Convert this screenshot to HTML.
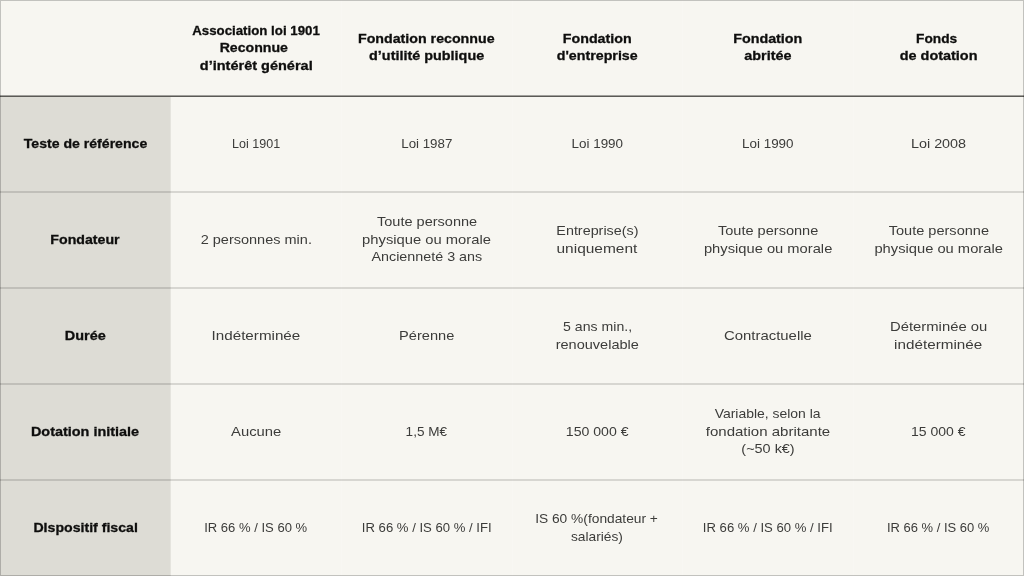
<!DOCTYPE html>
<html lang="fr"><head><meta charset="utf-8"><title>Comparatif des structures</title>
<style>
*{margin:0;padding:0;box-sizing:border-box}
html,body{width:1024px;height:576px;overflow:hidden;background:#f7f6f1}
body{font-family:"Liberation Sans",sans-serif;font-size:13.33px;line-height:17.5px;color:#3c3c3a;position:relative}
.tbl{position:absolute;left:0;top:0;width:1024px;height:576px;background:#f7f6f1}
.cell{position:absolute;width:170.667px;height:96px}
.lab{background:#dddcd5}
.hr{position:absolute;left:0;width:1024px;height:2px;margin-top:-1px;background:rgba(0,0,0,.13)}
.hr.h0{height:1px;background:#5b5a56;margin-top:0;box-shadow:0 -1px 0 rgba(91,90,86,.55)}
.seam{position:absolute;top:0;width:1px;height:576px;background:rgba(255,255,255,.15)}
.frame{position:absolute;left:0;top:0;width:1024px;height:576px;border:1px solid rgba(0,0,0,.21);pointer-events:none}
.ln{position:absolute;left:0;top:0;white-space:nowrap;transform-origin:50% 50%;display:block}
.b .ln{font-weight:700;color:#0e0e0d;-webkit-text-stroke:0.3px #0e0e0d}
.edge{position:absolute;left:170px;top:96px;width:1px;height:480px;background:#e5e4de}
</style></head><body>
<div class="tbl">
<div class="cell" style="left:0px;top:0px;width:170px">
</div>
<div class="cell b" style="left:171px;top:0px;width:170px">
<span class="ln" style="transform:translate(85.00px,21.83px) translateX(-50%) scaleX(0.9963)">Association loi 1901</span>
<span class="ln" style="transform:translate(82.80px,39.33px) translateX(-50%) scaleX(1.0601)">Reconnue</span>
<span class="ln" style="transform:translate(85.25px,56.83px) translateX(-50%) scaleX(1.0881)">d’intérêt général</span>
</div>
<div class="cell b" style="left:341px;top:0px;width:171px">
<span class="ln" style="transform:translate(85.28px,29.98px) translateX(-50%) scaleX(1.0660)">Fondation reconnue</span>
<span class="ln" style="transform:translate(85.63px,47.48px) translateX(-50%) scaleX(1.0803)">d’utilité publique</span>
</div>
<div class="cell b" style="left:512px;top:0px;width:171px">
<span class="ln" style="transform:translate(85.23px,29.98px) translateX(-50%) scaleX(1.0701)">Fondation</span>
<span class="ln" style="transform:translate(85.23px,47.48px) translateX(-50%) scaleX(1.0677)">d'entreprise</span>
</div>
<div class="cell b" style="left:683px;top:0px;width:170px">
<span class="ln" style="transform:translate(84.76px,29.98px) translateX(-50%) scaleX(1.0736)">Fondation</span>
<span class="ln" style="transform:translate(84.88px,47.48px) translateX(-50%) scaleX(1.0804)">abritée</span>
</div>
<div class="cell b" style="left:853px;top:0px;width:171px">
<span class="ln" style="transform:translate(83.64px,29.98px) translateX(-50%) scaleX(1.0285)">Fonds</span>
<span class="ln" style="transform:translate(85.60px,47.48px) translateX(-50%) scaleX(1.0831)">de dotation</span>
</div>
<div class="cell lab b" style="left:0px;top:96px;width:170px">
<span class="ln" style="transform:translate(85.50px,39.13px) translateX(-50%) scaleX(1.0569)">Teste de référence</span>
</div>
<div class="cell" style="left:171px;top:96px;width:170px">
<span class="ln" style="transform:translate(85.12px,38.93px) translateX(-50%) scaleX(0.9390)">Loi 1901</span>
</div>
<div class="cell" style="left:341px;top:96px;width:171px">
<span class="ln" style="transform:translate(85.77px,38.93px) translateX(-50%) scaleX(0.9988)">Loi 1987</span>
</div>
<div class="cell" style="left:512px;top:96px;width:171px">
<span class="ln" style="transform:translate(85.28px,38.93px) translateX(-50%) scaleX(1.0064)">Loi 1990</span>
</div>
<div class="cell" style="left:683px;top:96px;width:170px">
<span class="ln" style="transform:translate(84.78px,38.93px) translateX(-50%) scaleX(1.0064)">Loi 1990</span>
</div>
<div class="cell" style="left:853px;top:96px;width:171px">
<span class="ln" style="transform:translate(85.53px,38.93px) translateX(-50%) scaleX(1.0791)">Loi 2008</span>
</div>
<div class="cell lab b" style="left:0px;top:192px;width:170px">
<span class="ln" style="transform:translate(85.01px,39.13px) translateX(-50%) scaleX(1.0630)">Fondateur</span>
</div>
<div class="cell" style="left:171px;top:192px;width:170px">
<span class="ln" style="transform:translate(85.31px,38.93px) translateX(-50%) scaleX(1.0880)">2 personnes min.</span>
</div>
<div class="cell" style="left:341px;top:192px;width:171px">
<span class="ln" style="transform:translate(86.08px,21.43px) translateX(-50%) scaleX(1.0898)">Toute personne</span>
<span class="ln" style="transform:translate(85.50px,38.93px) translateX(-50%) scaleX(1.1072)">physique ou morale</span>
<span class="ln" style="transform:translate(85.85px,56.43px) translateX(-50%) scaleX(1.0746)">Ancienneté 3 ans</span>
</div>
<div class="cell" style="left:512px;top:192px;width:171px">
<span class="ln" style="transform:translate(85.40px,30.13px) translateX(-50%) scaleX(1.0765)">Entreprise(s)</span>
<span class="ln" style="transform:translate(84.92px,47.63px) translateX(-50%) scaleX(1.1609)">uniquement</span>
</div>
<div class="cell" style="left:683px;top:192px;width:170px">
<span class="ln" style="transform:translate(85.12px,30.13px) translateX(-50%) scaleX(1.0922)">Toute personne</span>
<span class="ln" style="transform:translate(85.12px,47.63px) translateX(-50%) scaleX(1.1038)">physique ou morale</span>
</div>
<div class="cell" style="left:853px;top:192px;width:171px">
<span class="ln" style="transform:translate(85.85px,30.13px) translateX(-50%) scaleX(1.0922)">Toute personne</span>
<span class="ln" style="transform:translate(85.64px,47.63px) translateX(-50%) scaleX(1.1040)">physique ou morale</span>
</div>
<div class="cell lab b" style="left:0px;top:288px;width:170px">
<span class="ln" style="transform:translate(85.28px,39.13px) translateX(-50%) scaleX(1.0839)">Durée</span>
</div>
<div class="cell" style="left:171px;top:288px;width:170px">
<span class="ln" style="transform:translate(84.92px,38.93px) translateX(-50%) scaleX(1.1402)">Indéterminée</span>
</div>
<div class="cell" style="left:341px;top:288px;width:171px">
<span class="ln" style="transform:translate(85.66px,38.93px) translateX(-50%) scaleX(1.0948)">Pérenne</span>
</div>
<div class="cell" style="left:512px;top:288px;width:171px">
<span class="ln" style="transform:translate(85.59px,30.13px) translateX(-50%) scaleX(1.0581)">5 ans min.,</span>
<span class="ln" style="transform:translate(85.26px,47.63px) translateX(-50%) scaleX(1.0903)">renouvelable</span>
</div>
<div class="cell" style="left:683px;top:288px;width:170px">
<span class="ln" style="transform:translate(84.89px,38.93px) translateX(-50%) scaleX(1.1195)">Contractuelle</span>
</div>
<div class="cell" style="left:853px;top:288px;width:171px">
<span class="ln" style="transform:translate(85.63px,30.13px) translateX(-50%) scaleX(1.1124)">Déterminée ou</span>
<span class="ln" style="transform:translate(85.17px,47.63px) translateX(-50%) scaleX(1.1437)">indéterminée</span>
</div>
<div class="cell lab b" style="left:0px;top:384px;width:170px">
<span class="ln" style="transform:translate(85.02px,39.13px) translateX(-50%) scaleX(1.0825)">Dotation initiale</span>
</div>
<div class="cell" style="left:171px;top:384px;width:170px">
<span class="ln" style="transform:translate(85.19px,38.93px) translateX(-50%) scaleX(1.1117)">Aucune</span>
</div>
<div class="cell" style="left:341px;top:384px;width:171px">
<span class="ln" style="transform:translate(85.32px,38.93px) translateX(-50%) scaleX(1.0165)">1,5 M€</span>
</div>
<div class="cell" style="left:512px;top:384px;width:171px">
<span class="ln" style="transform:translate(85.16px,38.93px) translateX(-50%) scaleX(1.0584)">150 000 €</span>
</div>
<div class="cell" style="left:683px;top:384px;width:170px">
<span class="ln" style="transform:translate(84.63px,21.43px) translateX(-50%) scaleX(1.0464)">Variable, selon la</span>
<span class="ln" style="transform:translate(84.97px,38.93px) translateX(-50%) scaleX(1.1265)">fondation abritante</span>
<span class="ln" style="transform:translate(85.00px,56.43px) translateX(-50%) scaleX(1.0831)">(~50 k€)</span>
</div>
<div class="cell" style="left:853px;top:384px;width:171px">
<span class="ln" style="transform:translate(85.29px,38.93px) translateX(-50%) scaleX(1.0506)">15 000 €</span>
</div>
<div class="cell lab b" style="left:0px;top:480px;width:170px">
<span class="ln" style="transform:translate(85.62px,39.13px) translateX(-50%) scaleX(1.0598)">DIspositif fiscal</span>
</div>
<div class="cell" style="left:171px;top:480px;width:170px">
<span class="ln" style="transform:translate(84.64px,38.93px) translateX(-50%) scaleX(0.9788)">IR 66 % / IS 60 %</span>
</div>
<div class="cell" style="left:341px;top:480px;width:171px">
<span class="ln" style="transform:translate(85.72px,38.93px) translateX(-50%) scaleX(0.9842)">IR 66 % / IS 60 % / IFI</span>
</div>
<div class="cell" style="left:512px;top:480px;width:171px">
<span class="ln" style="transform:translate(84.52px,30.13px) translateX(-50%) scaleX(1.0323)">IS 60 %(fondateur +</span>
<span class="ln" style="transform:translate(84.91px,47.63px) translateX(-50%) scaleX(1.0324)">salariés)</span>
</div>
<div class="cell" style="left:683px;top:480px;width:170px">
<span class="ln" style="transform:translate(84.72px,38.93px) translateX(-50%) scaleX(0.9842)">IR 66 % / IS 60 % / IFI</span>
</div>
<div class="cell" style="left:853px;top:480px;width:171px">
<span class="ln" style="transform:translate(85.17px,38.93px) translateX(-50%) scaleX(0.9741)">IR 66 % / IS 60 %</span>
</div>
<div class="seam" style="left:341px"></div>
<div class="seam" style="left:512px"></div>
<div class="seam" style="left:682px"></div>
<div class="seam" style="left:853px"></div>
<div class="edge"></div>
<div class="hr h0" style="top:96px"></div>
<div class="hr h1" style="top:192px"></div>
<div class="hr h2" style="top:288px"></div>
<div class="hr h3" style="top:384px"></div>
<div class="hr h4" style="top:480px"></div>
<div class="frame"></div>
</div></body></html>
